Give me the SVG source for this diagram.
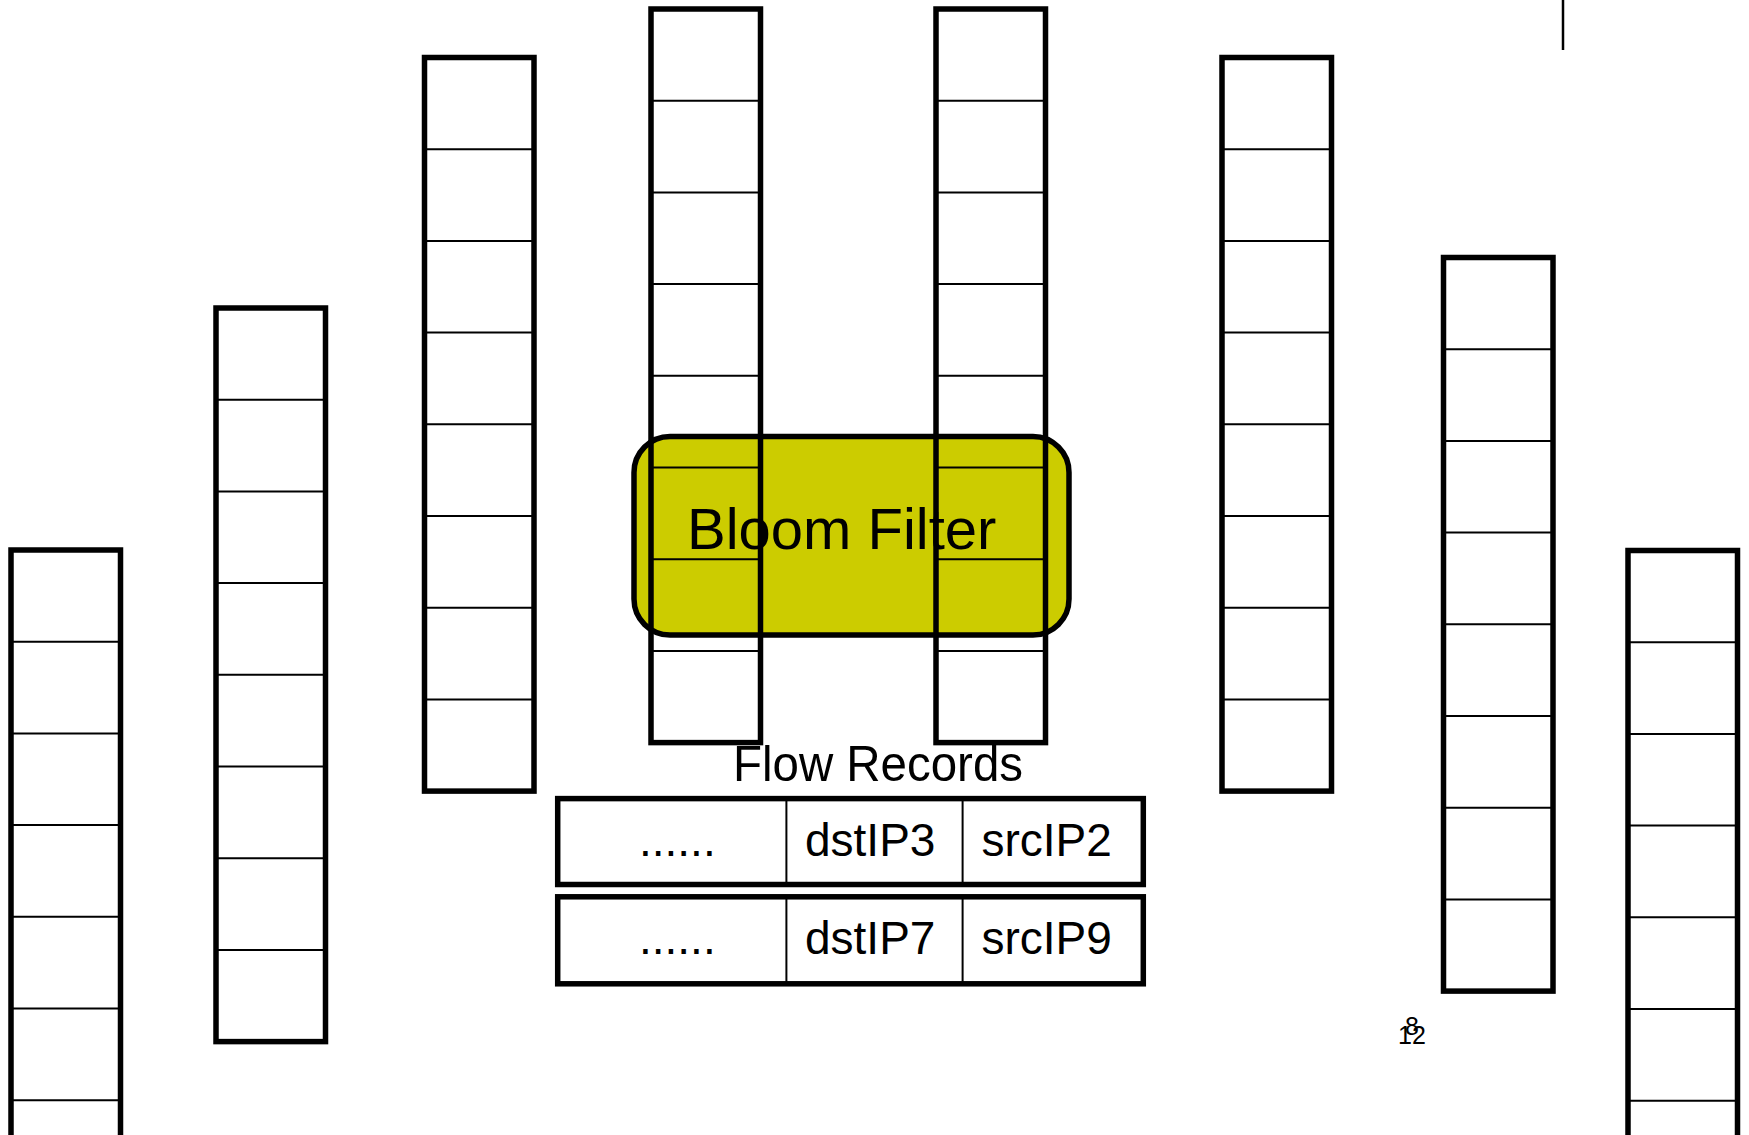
<svg xmlns="http://www.w3.org/2000/svg" xmlns:xlink="http://www.w3.org/1999/xlink" width="1749" height="1135" viewBox="0 0 1749 1135">
<style>
.col{fill:none;stroke:#000;stroke-width:5.5}
.div{stroke:#000;stroke-width:2}
.bf{fill:#CCCC00;stroke:#000;stroke-width:5.5}
.row{fill:none;stroke:#000;stroke-width:5.5}
.t{font-family:"Liberation Sans",Arial,sans-serif;fill:#000}
.cell{font-size:46px}
</style>
<defs>
<g id="column">
<rect class="col" x="0" y="0" width="109.5" height="733.6"/>
<line class="div" x1="0" y1="91.7" x2="109.5" y2="91.7"/>
<line class="div" x1="0" y1="183.4" x2="109.5" y2="183.4"/>
<line class="div" x1="0" y1="275.1" x2="109.5" y2="275.1"/>
<line class="div" x1="0" y1="366.8" x2="109.5" y2="366.8"/>
<line class="div" x1="0" y1="458.5" x2="109.5" y2="458.5"/>
<line class="div" x1="0" y1="550.2" x2="109.5" y2="550.2"/>
<line class="div" x1="0" y1="641.9" x2="109.5" y2="641.9"/>
</g>
</defs>
<rect width="1749" height="1135" fill="#fff"/>
<g id="bloom-filter">
<rect class="bf" x="634" y="436.5" width="435" height="198.5" rx="36" ry="36"/>
<text class="t" x="687" y="549" font-size="58">Bloom Filter</text>
</g>
<g id="columns">
<use id="col1" xlink:href="#column" x="11" y="550"/>
<use id="col2" xlink:href="#column" x="216" y="308"/>
<use id="col3" xlink:href="#column" x="424.5" y="57.5"/>
<use id="col4" xlink:href="#column" x="651" y="9"/>
<use id="col5" xlink:href="#column" x="936" y="9"/>
<use id="col6" xlink:href="#column" x="1222" y="57.5"/>
<use id="col7" xlink:href="#column" x="1443.5" y="257.5"/>
<use id="col8" xlink:href="#column" x="1628" y="550.5"/>
</g>
<g id="flow-records">
<text class="t" x="733" y="781" font-size="50" textLength="290" lengthAdjust="spacingAndGlyphs">Flow Records</text>
<g id="record1">
<rect class="row" x="557.7" y="798.6" width="585.6" height="85.9"/>
<line class="div" x1="786.4" y1="798.6" x2="786.4" y2="884.5"/>
<line class="div" x1="962.6" y1="798.6" x2="962.6" y2="884.5"/>
<text class="t cell" x="639" y="855.5">......</text>
<text class="t cell" x="805" y="855.5">dstIP3</text>
<text class="t cell" x="981.5" y="855.5">srcIP2</text>
</g>
<g id="record2">
<rect class="row" x="557.7" y="896.8" width="585.6" height="87"/>
<line class="div" x1="786.4" y1="896.8" x2="786.4" y2="983.8"/>
<line class="div" x1="962.6" y1="896.8" x2="962.6" y2="983.8"/>
<text class="t cell" x="639" y="953.7">......</text>
<text class="t cell" x="805" y="953.7">dstIP7</text>
<text class="t cell" x="981.5" y="953.7">srcIP9</text>
</g>
</g>
<g id="misc">
<line x1="1563" y1="0" x2="1563" y2="50" stroke="#000" stroke-width="2.5"/>
<text class="t" x="1398" y="1044" font-size="25">12</text>
<text class="t" x="1405" y="1035" font-size="25">8</text>
</g>
</svg>
